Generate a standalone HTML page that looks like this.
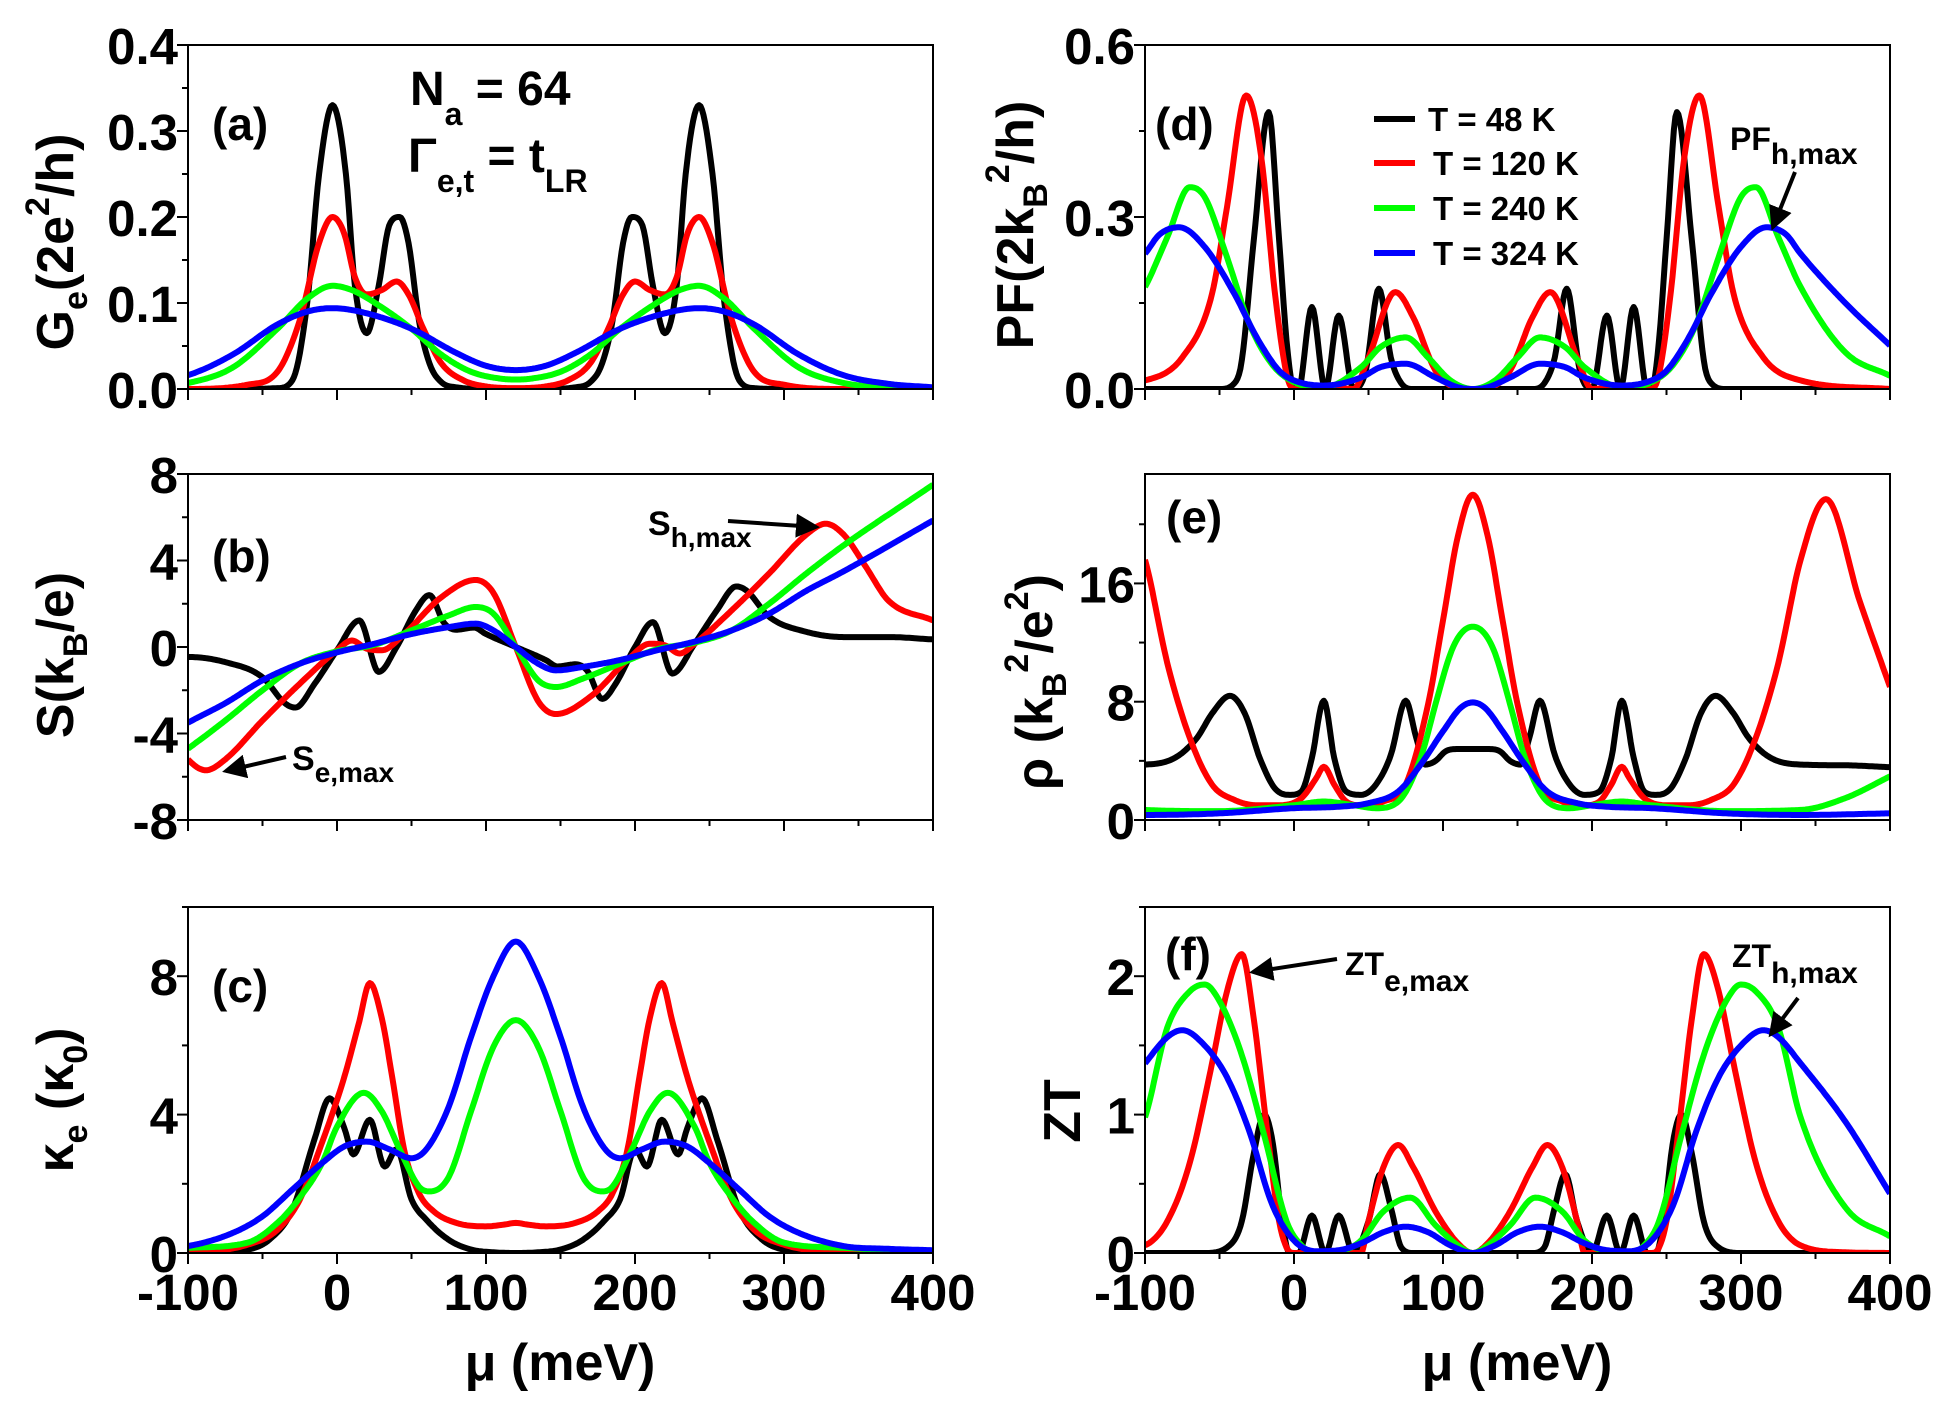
<!DOCTYPE html>
<html><head><meta charset="utf-8">
<style>
html,body{margin:0;padding:0;background:#fff;}
svg{display:block;}
text{font-family:"Liberation Sans",Arial,sans-serif;font-weight:bold;fill:#000;}
</style></head>
<body>
<svg id="s" width="1942" height="1408" viewBox="0 0 1942 1408" xmlns="http://www.w3.org/2000/svg">
<defs>
<clipPath id="c0"><rect x="188" y="45" width="745" height="344"/></clipPath>
<clipPath id="c1"><rect x="188" y="474" width="745" height="346"/></clipPath>
<clipPath id="c2"><rect x="188" y="907" width="745" height="346"/></clipPath>
<clipPath id="c3"><rect x="1145" y="45" width="745" height="344"/></clipPath>
<clipPath id="c4"><rect x="1145" y="474" width="745" height="346"/></clipPath>
<clipPath id="c5"><rect x="1145" y="907" width="745" height="346"/></clipPath>
<marker id="ah" markerWidth="6" markerHeight="6" refX="5" refY="3" orient="auto" markerUnits="strokeWidth"><path d="M0,0 L6,3 L0,6 z" fill="#000"/></marker>
</defs>
<g id="g"></g>
<text transform="translate(73,242) rotate(-90)" font-size="52" text-anchor="middle">G<tspan font-size="34" dy="14">e</tspan><tspan dy="-14">(2e</tspan><tspan font-size="34" dy="-24">2</tspan><tspan dy="24">/h)</tspan></text>
<text transform="translate(73,655) rotate(-90)" font-size="52" text-anchor="middle">S(k<tspan font-size="34" dy="14">B</tspan><tspan dy="-14">/e)</tspan></text>
<text transform="translate(73,1100) rotate(-90)" font-size="52" text-anchor="middle">κ<tspan font-size="34" dy="14">e</tspan><tspan dy="-14"> (κ</tspan><tspan font-size="34" dy="14">0</tspan><tspan dy="-14">)</tspan></text>
<text transform="translate(1033,225) rotate(-90)" font-size="52" text-anchor="middle">PF(2k<tspan font-size="34" dy="14">B</tspan><tspan font-size="34" dy="-38">2</tspan><tspan dy="24">/h)</tspan></text>
<text transform="translate(1052,682) rotate(-90)" font-size="52" text-anchor="middle">ρ (k<tspan font-size="34" dy="14">B</tspan><tspan font-size="34" dy="-38">2</tspan><tspan dy="24">/e</tspan><tspan font-size="34" dy="-24">2</tspan><tspan dy="24">)</tspan></text>
<text transform="translate(1080,1111) rotate(-90)" font-size="52" text-anchor="middle">ZT</text>
<text x="560" y="1380" font-size="52" text-anchor="middle">μ (meV)</text>
<text x="1517" y="1380" font-size="52" text-anchor="middle">μ (meV)</text>
<text x="212" y="140" font-size="46">(a)</text>
<text x="212" y="572" font-size="46">(b)</text>
<text x="212" y="1002" font-size="46">(c)</text>
<text x="1155" y="140" font-size="46">(d)</text>
<text x="1166" y="533" font-size="46">(e)</text>
<text x="1165" y="970" font-size="46">(f)</text>
<text x="410" y="105" font-size="48">N<tspan font-size="32" dy="20">a</tspan><tspan dy="-20"> = 64</tspan></text>
<text x="408" y="172" font-size="48">Γ<tspan font-size="32" dy="20">e,t</tspan><tspan dy="-20"> = t</tspan><tspan font-size="32" dy="20">LR</tspan></text>
<text x="648" y="535" font-size="34">S<tspan font-size="28" dy="12">h,max</tspan></text>
<text x="292" y="770" font-size="34">S<tspan font-size="28" dy="12">e,max</tspan></text>
<text x="1730" y="150" font-size="32">PF<tspan font-size="30" dy="14">h,max</tspan></text>
<text x="1345" y="975" font-size="32">ZT<tspan font-size="30" dy="16">e,max</tspan></text>
<text x="1732" y="967" font-size="32">ZT<tspan font-size="30" dy="16">h,max</tspan></text>
<line x1="1374" y1="119" x2="1415" y2="119" stroke="#000" stroke-width="6"/>
<line x1="1374" y1="163" x2="1415" y2="163" stroke="#f00" stroke-width="6"/>
<line x1="1374" y1="208" x2="1415" y2="208" stroke="#0f0" stroke-width="6"/>
<line x1="1374" y1="253" x2="1415" y2="253" stroke="#00f" stroke-width="6"/>
<text x="1428" y="131" font-size="33">T = 48 K</text>
<text x="1433" y="175" font-size="33">T = 120 K</text>
<text x="1433" y="220" font-size="33">T = 240 K</text>
<text x="1433" y="265" font-size="33">T = 324 K</text>
</svg>
<script>
(function(){
var NS="http://www.w3.org/2000/svg";
var G=document.getElementById("g");
function el(t,a,p){var e=document.createElementNS(NS,t);for(var k in a)e.setAttribute(k,a[k]);(p||G).appendChild(e);return e;}
function mono(pts){
 pts=pts.slice().sort(function(a,b){return a[0]-b[0];});
 var n=pts.length,xs=[],ys=[],d=[],m=[];
 for(var i=0;i<n;i++){xs.push(pts[i][0]);ys.push(pts[i][1]);}
 for(i=0;i<n-1;i++)d.push((ys[i+1]-ys[i])/(xs[i+1]-xs[i]));
 m[0]=d[0];m[n-1]=d[n-2];
 for(i=1;i<n-1;i++){if(d[i-1]*d[i]<=0)m[i]=0;else m[i]=(d[i-1]+d[i])/2;}
 for(i=0;i<n-1;i++){if(d[i]==0){m[i]=0;m[i+1]=0;continue;}var a=m[i]/d[i],b=m[i+1]/d[i],s=a*a+b*b;if(s>9){var t=3/Math.sqrt(s);m[i]=t*a*d[i];m[i+1]=t*b*d[i];}}
 return function(x){
  if(x<=xs[0])return ys[0];if(x>=xs[n-1])return ys[n-1];
  var k=0;while(x>xs[k+1])k++;
  var h=xs[k+1]-xs[k],t=(x-xs[k])/h,t2=t*t,t3=t2*t;
  return (2*t3-3*t2+1)*ys[k]+(t3-2*t2+t)*h*m[k]+(-2*t3+3*t2)*ys[k+1]+(t3-t2)*h*m[k+1];
 };
}
function sym(pts,odd){
 var out=pts.slice();
 pts.forEach(function(p){if(p[0]<120)out.push([240-p[0],odd?-p[1]:p[1]]);});
 if(odd&&!pts.some(function(p){return p[0]==120;}))out.push([120,0]);
 return out;
}
var P=[
 {x0:188,x1:933,y0:45,y1:389,ymin:0,ymax:0.4,maj:[0,0.1,0.2,0.3,0.4],lab:["0.0","0.1","0.2","0.3","0.4"],minr:0.05,xl:false},
 {x0:188,x1:933,y0:474,y1:820,ymin:-8,ymax:8,maj:[-8,-4,0,4,8],lab:["-8","-4","0","4","8"],minr:2,xl:false},
 {x0:188,x1:933,y0:907,y1:1253,ymin:0,ymax:10,maj:[0,4,8],lab:["0","4","8"],minr:2,xl:true},
 {x0:1145,x1:1890,y0:45,y1:389,ymin:0,ymax:0.6,maj:[0,0.3,0.6],lab:["0.0","0.3","0.6"],minr:0.15,xl:false},
 {x0:1145,x1:1890,y0:474,y1:820,ymin:0,ymax:23.4,maj:[0,8,16],lab:["0","8","16"],minr:4,xl:false},
 {x0:1145,x1:1890,y0:907,y1:1253,ymin:0,ymax:2.5,maj:[0,1,2],lab:["0","1","2"],minr:0.5,xl:true}
];
var D=[
 [sym([[-160,0],[-60,0],[-40,0.001],[-30,0.01],[-20,0.1],[-12,0.25],[-3,0.33],[6,0.25],[12,0.12],[20,0.065],[28,0.12],[35,0.19],[42,0.2],[48,0.17],[55,0.08],[62,0.03],[70,0.008],[80,0.002],[100,0],[120,0]]),
  sym([[-160,0],[-100,0.0],[-60,0.005],[-40,0.02],[-25,0.08],[-12,0.17],[-3,0.2],[5,0.18],[12,0.13],[20,0.11],[30,0.115],[40,0.125],[48,0.11],[58,0.07],[70,0.03],[85,0.01],[100,0.003],[120,0.001]]),
  sym([[-160,0.001],[-130,0.002],[-100,0.007],[-70,0.025],[-40,0.07],[-20,0.105],[-3,0.12],[10,0.115],[30,0.095],[50,0.07],[70,0.04],[90,0.02],[110,0.012],[120,0.011]]),
  sym([[-160,0.002],[-130,0.006],[-100,0.016],[-70,0.04],[-40,0.075],[-20,0.09],[-3,0.094],[20,0.088],[50,0.07],[80,0.042],[100,0.027],[120,0.022]])],
 [sym([[-160,-0.35],[-130,-0.46],[-100,-0.46],[-75,-0.7],[-50,-1.4],[-35,-2.6],[-28,-2.8],[-15,-1.7],[0,-0.15],[15,1.23],[28,-1.15],[40,0],[53,1.7],[62,2.4],[72,1.1],[80,0.8],[92,0.9],[100,0.6]],true),
  sym([[-160,-1.23],[-130,-2.15],[-115,-3.7],[-100,-5.2],[-88,-5.7],[-75,-5.2],[-50,-3.4],[-25,-1.7],[0,-0.15],[10,0.3],[20,-0.08],[30,-0.15],[45,0.6],[70,2.3],[93,3.1],[105,2.5]],true),
  sym([[-160,-7.5],[-100,-4.7],[-75,-3.4],[-50,-2],[-25,-0.77],[0,-0.2],[25,0.1],[50,0.77],[75,1.46],[93,1.85],[105,1.54]],true),
  sym([[-160,-5.85],[-100,-3.5],[-75,-2.6],[-50,-1.54],[-25,-0.77],[0,-0.25],[25,0.15],[50,0.6],[75,0.92],[93,1.08],[105,0.77]],true)],
 [sym([[-160,0],[-100,0],[-60,0.1],[-45,0.4],[-30,1.25],[-15,3.3],[-5,4.47],[5,3.6],[11,2.85],[22,3.85],[32,2.5],[40,3.0],[50,1.55],[60,0.96],[75,0.38],[90,0.1],[105,0.02],[120,0]]),
  sym([[-160,0.0],[-130,0.01],[-100,0.02],[-60,0.24],[-40,0.67],[-25,1.54],[-10,3.2],[5,5.1],[15,6.7],[22,7.8],[30,6.8],[37,5.1],[45,3.0],[55,1.73],[65,1.2],[80,0.87],[100,0.77],[112,0.82],[120,0.87]]),
  sym([[-160,0.05],[-130,0.08],[-100,0.15],[-60,0.3],[-40,0.87],[-25,1.6],[-10,2.6],[0,3.65],[18,4.63],[30,4.1],[42,3.0],[55,1.92],[62,1.78],[75,2.2],[90,4.1],[105,5.96],[120,6.73]]),
  sym([[-160,0.08],[-130,0.12],[-100,0.2],[-70,0.58],[-50,1.06],[-30,1.83],[-10,2.6],[5,3.08],[20,3.22],[35,3.0],[50,2.74],[60,3.0],[75,4.23],[90,6.25],[105,8.0],[120,9.0]])],
 [sym([[-160,0],[-50,0],[-40,0.01],[-35,0.05],[-27,0.26],[-17,0.483],[-10,0.26],[-5,0.085],[0,0],[3,0],[12,0.143],[21,0],[30,0.128],[40,0],[48,0.03],[57,0.175],[65,0.055],[72,0.01],[80,0],[120,0]]),
  sym([[-160,0],[-100,0.015],[-75,0.055],[-55,0.166],[-45,0.317],[-32,0.512],[-22,0.405],[-13,0.172],[-5,0.026],[0,0],[20,0.005],[40,0],[50,0.055],[68,0.169],[80,0.125],[95,0.032],[108,0.003],[120,0]]),
  sym([[-160,0.023],[-130,0.064],[-100,0.178],[-85,0.265],[-70,0.352],[-60,0.335],[-45,0.23],[-30,0.114],[-15,0.044],[0,0.012],[20,0.003],[45,0.038],[58,0.073],[75,0.09],[90,0.055],[105,0.015],[120,0]]),
  sym([[-160,0.076],[-130,0.15],[-100,0.236],[-90,0.27],[-77,0.282],[-60,0.248],[-40,0.166],[-25,0.09],[-10,0.032],[0,0.015],[20,0.006],[45,0.02],[58,0.038],[75,0.044],[95,0.02],[110,0.003],[120,0]])],
 [sym([[-160,3.57],[-130,3.7],[-100,3.75],[-80,4.2],[-65,5.57],[-55,7.2],[-43,8.4],[-33,7.2],[-23,4.2],[-13,2.16],[-3,1.7],[5,1.93],[12,4.2],[20,8.07],[27,4.2],[35,1.93],[45,1.7],[55,2.4],[65,4.4],[75,8.07],[82,5.57],[88,3.75],[95,4.0],[102,4.66],[110,4.8],[120,4.8]]),
  sym([[-160,9.0],[-140,14.7],[-117,21.7],[-100,17.6],[-85,10.6],[-70,5.57],[-55,2.4],[-40,1.36],[-25,1.0],[-10,1.0],[5,1.48],[15,2.84],[20,3.6],[27,2.4],[35,1.25],[45,1.0],[60,1.25],[75,2.4],[90,7.84],[100,13.5],[110,19.2],[120,22.0]]),
  sym([[-160,2.95],[-130,1.48],[-100,0.68],[-50,0.6],[0,1.0],[20,1.25],[40,1.0],[55,0.8],[70,1.25],[85,4.2],[95,7.84],[105,11.25],[112,12.6],[120,13.07]]),
  sym([[-160,0.45],[-100,0.34],[-50,0.45],[0,0.8],[30,0.9],[50,1.14],[70,1.93],[85,3.75],[100,6.0],[112,7.6],[120,7.95]])],
 [sym([[-160,0],[-60,0],[-45,0.04],[-35,0.23],[-27,0.72],[-20,1.0],[-14,0.78],[-8,0.23],[-3,0],[3,0],[12,0.27],[21,0],[30,0.27],[40,0],[50,0.23],[58,0.57],[65,0.33],[72,0.04],[80,0],[120,0]]),
  sym([[-160,0],[-130,0.005],[-100,0.055],[-85,0.23],[-70,0.65],[-55,1.37],[-45,1.89],[-35,2.16],[-27,1.69],[-18,0.88],[-10,0.23],[-5,0.04],[0,0],[10,0],[30,0],[45,0],[50,0.23],[60,0.62],[70,0.78],[80,0.62],[95,0.3],[110,0.07],[120,0]]),
  sym([[-160,0.12],[-130,0.33],[-100,0.98],[-85,1.63],[-70,1.89],[-60,1.94],[-50,1.82],[-35,1.43],[-20,0.85],[-5,0.23],[5,0.055],[15,0],[30,0.01],[45,0.09],[60,0.3],[78,0.4],[95,0.2],[110,0.055],[120,0]]),
  sym([[-160,0.43],[-130,0.95],[-100,1.37],[-85,1.56],[-75,1.61],[-60,1.5],[-45,1.27],[-30,0.88],[-15,0.36],[0,0.09],[15,0.013],[30,0.02],[45,0.07],[60,0.15],[75,0.19],[90,0.15],[105,0.055],[120,0]])]
];
var COL=["#000","#f00","#0f0","#00f"];
P.forEach(function(p,i){
 var X=function(v){return p.x0+(v+100)/500*(p.x1-p.x0);};
 var Y=function(v){return p.y1-(v-p.ymin)/(p.ymax-p.ymin)*(p.y1-p.y0);};
 var cg=el("g",{"clip-path":"url(#c"+i+")"});
 D[i].forEach(function(pts,k){
  var f=mono(pts),s="";
  for(var x=-100;x<=400;x+=1){s+=(x==-100?"M":"L")+X(x).toFixed(1)+","+Y(f(x)).toFixed(1);}
  el("path",{d:s,fill:"none",stroke:COL[k],"stroke-width":6,"stroke-linejoin":"round"},cg);
 });
 el("rect",{x:p.x0,y:p.y0,width:p.x1-p.x0,height:p.y1-p.y0,fill:"none",stroke:"#000","stroke-width":2});
 for(var x=-100;x<=400;x+=50){var maj=(x%100==0);el("line",{x1:X(x),x2:X(x),y1:p.y1,y2:p.y1+(maj?11:6),stroke:"#000","stroke-width":2});
  if(p.xl&&maj){var t=el("text",{x:X(x),y:p.y1+57,"font-size":51,"text-anchor":"middle"});t.textContent=String(x);}}
 for(var v=p.ymin;v<=p.ymax+1e-9;v+=p.minr){
  var isMaj=p.maj.some(function(m){return Math.abs(m-v)<1e-6;});
  el("line",{x1:p.x0,x2:p.x0-(isMaj?11:6),y1:Y(v),y2:Y(v),stroke:"#000","stroke-width":2});
 }
 p.maj.forEach(function(m,j){var t=el("text",{x:p.x0-10,y:Y(m)+19,"font-size":51,"text-anchor":"end"});t.textContent=p.lab[j];});
});
function arrow(x1,y1,x2,y2){el("line",{x1:x1,y1:y1,x2:x2,y2:y2,stroke:"#000","stroke-width":4,"marker-end":"url(#ah)"});}
arrow(728,521,816,527);
arrow(286,757,226,771);
arrow(1795,172,1773,227);
arrow(1337,959,1253,972);
arrow(1798,998,1771,1034);
})();
</script>
</body></html>
